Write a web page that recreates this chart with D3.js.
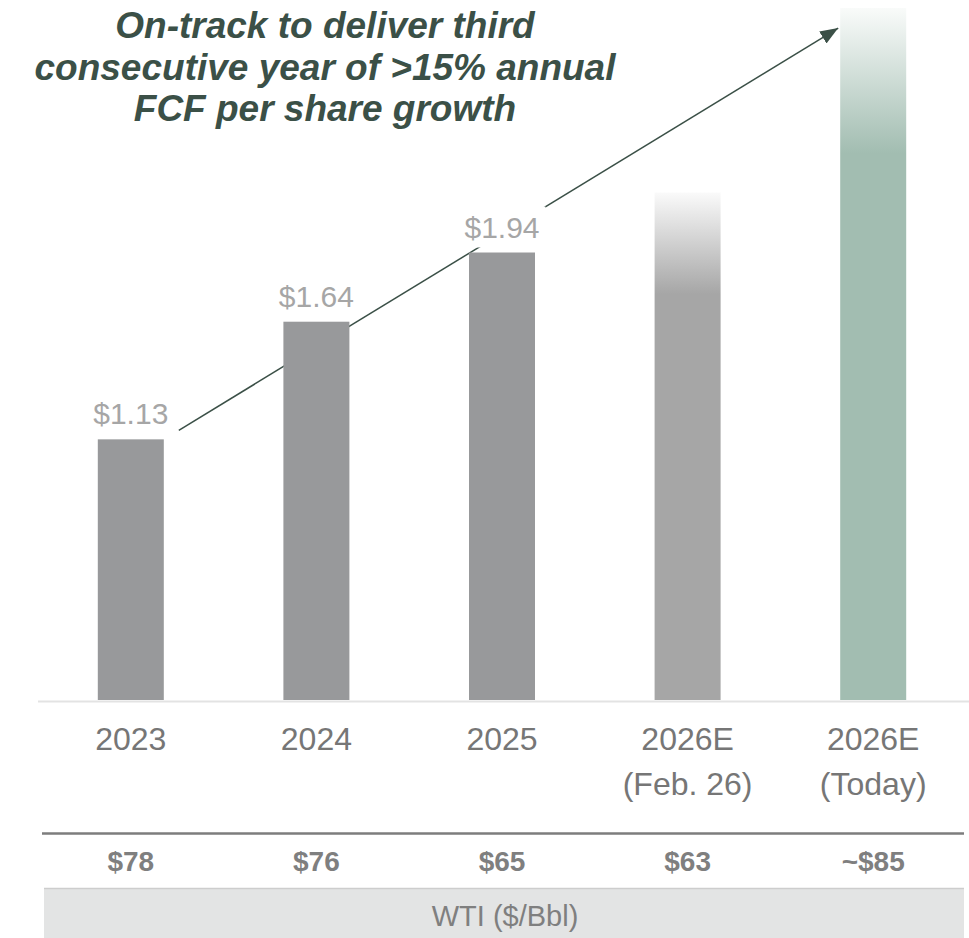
<!DOCTYPE html>
<html>
<head>
<meta charset="utf-8">
<script src="https://cdn.jsdelivr.net/npm/d3@7"></script>
<style>
  html, body { margin: 0; padding: 0; background: #ffffff; }
  svg { display: block; font-family: "Liberation Sans", Arial, sans-serif; }
</style>
</head>
<body>
<svg id="chart" width="969" height="938"></svg>
<script>
// FCF per share by year, with WTI price assumption below each column
const categories = ["2023", "2024", "2025", "2026E (Feb. 26)", "2026E (Today)"];
const categoryLines = [["2023"], ["2024"], ["2025"], ["2026E", "(Feb. 26)"], ["2026E", "(Today)"]];
const fcfPerShare = [1.13, 1.64, 1.94, 2.20, 3.00];
const valueLabels = ["$1.13", "$1.64", "$1.94", null, null];
const barKind = ["actual", "actual", "actual", "estimate", "outlook"];
const wtiPrices = ["$78", "$76", "$65", "$63", "~$85"];
const wtiCaption = "WTI ($/Bbl)";
const titleLines = [
  "On-track to deliver third",
  "consecutive year of >15% annual",
  "FCF per share growth"
];

const svg = d3.select("#chart");
const W = 969;

const x = d3.scaleBand().domain(categories).range([38, 966]).padding(0);
const y = d3.scaleLinear().domain([0, 3]).range([700, 8]);
const barW = 66;
const barX = c => x(c) + (x.bandwidth() - barW) / 2;
const cx = c => x(c) + x.bandwidth() / 2;

const defs = svg.append("defs");

// Fading tops for the estimate columns
function fadeGradient(id, color, solidAt) {
  const g = defs.append("linearGradient")
    .attr("id", id).attr("x1", 0).attr("y1", 0).attr("x2", 0).attr("y2", 1);
  g.append("stop").attr("offset", 0).attr("stop-color", d3.interpolateRgb("#ffffff", color)(0.06));
  g.append("stop").attr("offset", solidAt).attr("stop-color", color);
  g.append("stop").attr("offset", 1).attr("stop-color", color);
}
fadeGradient("fadeGrey", "#a6a6a6", 0.2);
fadeGradient("fadeGreen", "#a2bdb1", 0.21);

const fillFor = k => k === "actual" ? "#98999b" : k === "estimate" ? "url(#fadeGrey)" : "url(#fadeGreen)";

defs.append("marker")
  .attr("id", "arrowHead")
  .attr("markerUnits", "userSpaceOnUse")
  .attr("markerWidth", 20).attr("markerHeight", 16)
  .attr("refX", 18).attr("refY", 7)
  .attr("orient", "auto")
  .append("path")
  .attr("d", "M0,0 L18,7 L0,14 Z")
  .attr("fill", "#3b5047");

// Baseline
svg.append("line")
  .attr("x1", 38).attr("x2", W).attr("y1", y(0) + 1.5).attr("y2", y(0) + 1.5)
  .attr("stroke", "#e3e3e3").attr("stroke-width", 2);

// Growth arrow from the 2023 column toward the outlook column
const first = categories[0], last = categories[categories.length - 1];
svg.append("line")
  .attr("x1", barX(first) + barW + 15).attr("y1", y(fcfPerShare[0]) - 9)
  .attr("x2", barX(last) - 2).attr("y2", y(2.913))
  .attr("stroke", "#3b5047").attr("stroke-width", 1.5)
  .attr("marker-end", "url(#arrowHead)");

// Value labels with white backing so the arrow passes behind them
const lab = svg.append("g").selectAll("g")
  .data(categories.map((c, i) => ({ c, v: fcfPerShare[i], t: valueLabels[i] })).filter(d => d.t))
  .join("g");
const labText = lab.append("text")
  .attr("x", d => cx(d.c))
  .attr("y", d => y(d.v) - 15)
  .attr("text-anchor", "middle")
  .attr("font-size", 30)
  .attr("fill", "#a6a6a6")
  .text(d => d.t);
labText.each(function () {
  const b = this.getBBox();
  d3.select(this.parentNode).insert("rect", "text")
    .attr("x", b.x - 6).attr("y", b.y - 4)
    .attr("width", b.width + 12).attr("height", b.height + 8)
    .attr("fill", "#ffffff");
});

// Columns
svg.append("g").selectAll("rect")
  .data(categories.map((c, i) => ({ c, v: fcfPerShare[i], k: barKind[i] })))
  .join("rect")
  .attr("x", d => barX(d.c))
  .attr("y", d => y(d.v))
  .attr("width", barW)
  .attr("height", d => y(0) - y(d.v))
  .attr("fill", d => fillFor(d.k));

// Category labels
const catG = svg.append("g").selectAll("text")
  .data(categories.map((c, i) => ({ c, lines: categoryLines[i] })))
  .join("text")
  .attr("text-anchor", "middle")
  .attr("font-size", 32)
  .attr("fill", "#767676");
catG.selectAll("tspan")
  .data(d => d.lines.map((l, j) => ({ l, j, c: d.c })))
  .join("tspan")
  .attr("x", d => cx(d.c))
  .attr("y", d => 750 + d.j * 45)
  .text(d => d.l);

// WTI price row
svg.append("line")
  .attr("x1", 42).attr("x2", 964).attr("y1", 833.5).attr("y2", 833.5)
  .attr("stroke", "#7d7d7d").attr("stroke-width", 2.5);
svg.append("g").selectAll("text")
  .data(categories.map((c, i) => ({ c, p: wtiPrices[i] })))
  .join("text")
  .attr("x", d => cx(d.c))
  .attr("y", 871)
  .attr("text-anchor", "middle")
  .attr("font-size", 28)
  .attr("font-weight", "bold")
  .attr("fill", "#7f7f7f")
  .text(d => d.p);

svg.append("rect")
  .attr("x", 44).attr("y", 888).attr("width", 920).attr("height", 50)
  .attr("fill", "#e3e4e4");
svg.append("line")
  .attr("x1", 44).attr("x2", 964).attr("y1", 888.5).attr("y2", 888.5)
  .attr("stroke", "#cdcdcd").attr("stroke-width", 1.5);
svg.append("text")
  .attr("x", 505).attr("y", 926)
  .attr("text-anchor", "middle")
  .attr("font-size", 29)
  .attr("fill", "#7f7f7f")
  .text(wtiCaption);

// Headline
svg.append("text")
  .attr("text-anchor", "middle")
  .attr("font-size", 37)
  .attr("font-weight", "bold")
  .attr("font-style", "italic")
  .attr("fill", "#3b5047")
  .selectAll("tspan")
  .data(titleLines)
  .join("tspan")
  .attr("x", 325)
  .attr("y", (d, i) => 38 + i * 41.7)
  .text(d => d);
</script>
</body>
</html>
